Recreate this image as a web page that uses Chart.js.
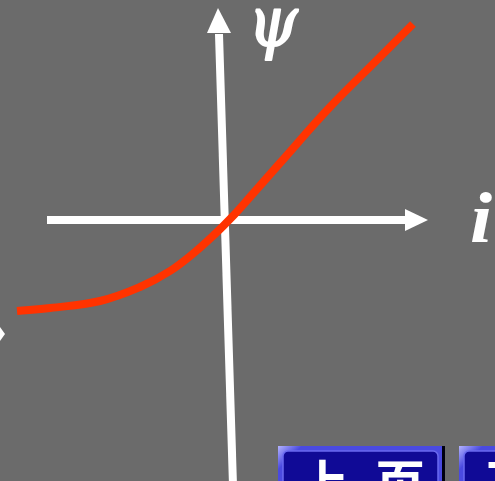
<!DOCTYPE html>
<html>
<head>
<meta charset="utf-8">
<script src="https://cdn.jsdelivr.net/npm/chart.js@4/dist/chart.umd.min.js"></script>
<style>
  html, body { margin: 0; padding: 0; background: #6b6b6b; overflow: hidden; }
  canvas { display: block; }
</style>
</head>
<body>
<canvas id="psiChart" width="495" height="481"></canvas>
<script>
// psi-i curve (origin where the two axes cross)
const currentI = [-20.7, -17.4, -12.4, -8.4, -5.4, -2.9, -0.9, 0.8, 2.6, 5.6, 10.6, 15.6, 18.9];
const fluxPsi = [-9.1, -8.8, -8.1, -6.7, -5.1, -3.2, -1.4, 0.3, 2.3, 5.7, 11.3, 16.3, 19.6];

// axis ends, in the same units: [start, arrow base, tip]
const iAxis = [-17.7, 18.1, 20.4];
const psiAxisI = [0.9, -0.5, -0.6];
const psiAxisPsi = [-26.5, 18.7, 21.2];

const axisLabels = ['ψ', 'i'];
const buttonLabels = ['上', '页', '下'];

// draw a glyph stretched into a pixel box
const drawFit = (ctx, text, font, box, extra) => {
    ctx.font = font;
    const m = ctx.measureText(text);
    const w = m.actualBoundingBoxLeft + m.actualBoundingBoxRight;
    const h = m.actualBoundingBoxAscent + m.actualBoundingBoxDescent;
    ctx.save();
    ctx.translate(box.left, box.top);
    ctx.scale((box.right - box.left) / w, (box.bottom - box.top) / h);
    ctx.textAlign = 'left';
    ctx.textBaseline = 'alphabetic';
    ctx.fillText(text, m.actualBoundingBoxLeft, m.actualBoundingBoxAscent);
    if (extra) {
        ctx.strokeStyle = ctx.fillStyle;
        ctx.lineWidth = extra;
        ctx.lineJoin = 'round';
        ctx.strokeText(text, m.actualBoundingBoxLeft, m.actualBoundingBoxAscent);
    }
    ctx.restore();
};

const drawAt = (ctx, text, font, left, top) => {
    ctx.font = font;
    const m = ctx.measureText(text);
    ctx.textAlign = 'left';
    ctx.textBaseline = 'alphabetic';
    ctx.fillText(text, left + m.actualBoundingBoxLeft, top + m.actualBoundingBoxAscent);
};

const axesPlugin = {
    id: 'axes',
    beforeDatasetsDraw(chart) {
        const { ctx, scales: { x, y } } = chart;
        ctx.save();
        ctx.fillStyle = '#ffffff';
        ctx.strokeStyle = '#ffffff';
        ctx.lineWidth = 8;
        ctx.lineCap = 'butt';

        // horizontal i axis
        const y0 = y.getPixelForValue(0);
        ctx.beginPath();
        ctx.moveTo(x.getPixelForValue(iAxis[0]), y0);
        ctx.lineTo(x.getPixelForValue(iAxis[1]) + 1, y0);
        ctx.stroke();
        ctx.beginPath();
        ctx.moveTo(x.getPixelForValue(iAxis[1]), y0 - 11);
        ctx.lineTo(x.getPixelForValue(iAxis[2]), y0);
        ctx.lineTo(x.getPixelForValue(iAxis[1]), y0 + 11);
        ctx.closePath();
        ctx.fill();

        // vertical psi axis (slightly leaning)
        const bx = x.getPixelForValue(psiAxisI[0]), by = y.getPixelForValue(psiAxisPsi[0]);
        const hx = x.getPixelForValue(psiAxisI[1]), hy = y.getPixelForValue(psiAxisPsi[1]);
        const tx = x.getPixelForValue(psiAxisI[2]), ty = y.getPixelForValue(psiAxisPsi[2]);
        ctx.beginPath();
        ctx.moveTo(bx, by);
        ctx.lineTo(hx, hy + 1);
        ctx.stroke();
        ctx.beginPath();
        ctx.moveTo(hx - 12, hy);
        ctx.lineTo(tx, ty);
        ctx.lineTo(hx + 12, hy);
        ctx.closePath();
        ctx.fill();

        // bit of a white mark cut off at the left edge
        ctx.beginPath();
        ctx.moveTo(0, 327);
        ctx.lineTo(5, 334);
        ctx.lineTo(0, 341);
        ctx.closePath();
        ctx.fill();
        ctx.restore();
    },
    afterDraw(chart) {
        const { ctx } = chart;
        ctx.save();
        ctx.fillStyle = '#ffffff';
        drawFit(ctx, axisLabels[0], 'italic 56px "DejaVu Serif"',
            { left: 256, top: 11, right: 299, bottom: 61 }, 1.6);
        drawFit(ctx, axisLabels[1], 'italic bold 72px "Liberation Serif"',
            { left: 471, top: 192, right: 492, bottom: 242 });

        // navigation buttons at the bottom
        const button = (x0, x1) => {
            const g = ctx.createLinearGradient(x0, 446, x0 + 12, 458);
            g.addColorStop(0, '#b4b4ff');
            g.addColorStop(1, '#4a4ae0');
            ctx.fillStyle = g;
            ctx.fillRect(x0, 446, x1 - x0, 40);
            ctx.fillStyle = '#000010';
            ctx.fillRect(x1 - 3, 446, 3, 40);
            ctx.fillStyle = '#100a96';
            ctx.strokeStyle = '#6a6af0';
            ctx.lineWidth = 1.5;
            ctx.beginPath();
            ctx.roundRect(x0 + 5, 451, x1 - x0 - 12, 40, 5);
            ctx.fill();
            ctx.stroke();
        };
        button(278, 445);
        button(459, 540);
        ctx.fillStyle = '#ffffff';
        const cjk = 'bold 50px "Noto Sans CJK SC"';
        drawAt(ctx, buttonLabels[0], cjk, 301, 459);
        drawAt(ctx, buttonLabels[1], cjk, 377, 461);
        drawAt(ctx, buttonLabels[2], cjk, 488, 461);
        ctx.restore();
    }
};

new Chart(document.getElementById('psiChart'), {
    type: 'scatter',
    data: {
        datasets: [{
            label: 'ψ(i)',
            data: currentI.map((v, k) => ({ x: v, y: fluxPsi[k] })),
            showLine: true,
            borderColor: '#ff3300',
            borderWidth: 8,
            borderCapStyle: 'butt',
            pointRadius: 0,
            tension: 0.4,
            clip: false,
        }]
    },
    options: {
        responsive: false,
        devicePixelRatio: 1,
        animation: false,
        layout: { padding: 0 },
        scales: {
            x: { type: 'linear', min: -22.4, max: 27.1, display: false },
            y: { type: 'linear', min: -26.1, max: 22.0, display: false },
        },
        plugins: {
            legend: { display: false },
            tooltip: { enabled: false },
        }
    },
    plugins: [axesPlugin]
});
</script>
</body>
</html>
